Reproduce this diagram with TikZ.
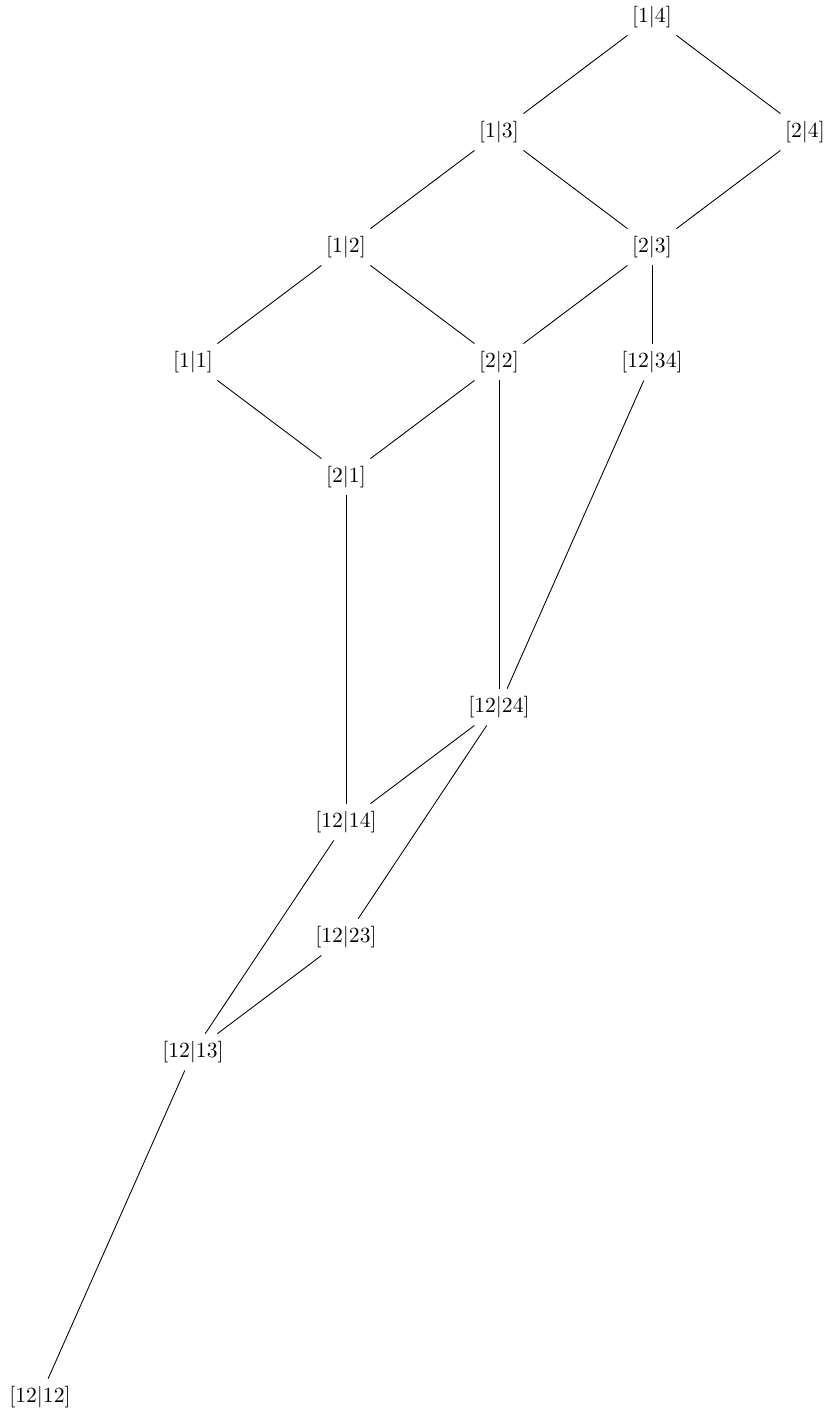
\documentclass[tikz,border=0pt]{standalone}
\begin{document}
\begin{tikzpicture}[x=70.83pt,y=-53.24pt, lbl/.style={inner sep=3.33pt}, edge/.style={draw,line width=0.4pt}]
\useasboundingbox (-18.5pt,7.87pt) rectangle (365.8pt,-645.8pt);
\node[lbl] (a14) at (4,0) {[1$|$4]};
\node[lbl] (a13) at (3,1) {[1$|$3]};
\node[lbl] (a24) at (5,1) {[2$|$4]};
\node[lbl] (a12) at (2,2) {[1$|$2]};
\node[lbl] (a23) at (4,2) {[2$|$3]};
\node[lbl] (a11) at (1,3) {[1$|$1]};
\node[lbl] (a22) at (3,3) {[2$|$2]};
\node[lbl] (b1234) at (4,3) {[12$|$34]};
\node[lbl] (a21) at (2,4) {[2$|$1]};
\node[lbl] (b1224) at (3,6) {[12$|$24]};
\node[lbl] (b1214) at (2,7) {[12$|$14]};
\node[lbl] (b1223) at (2,8) {[12$|$23]};
\node[lbl] (b1213) at (1,9) {[12$|$13]};
\node[lbl] (b1212) at (0,12) {[12$|$12]};
\path[edge] (a14) -- (a13);
\path[edge] (a14) -- (a24);
\path[edge] (a13) -- (a12);
\path[edge] (a13) -- (a23);
\path[edge] (a24) -- (a23);
\path[edge] (a12) -- (a11);
\path[edge] (a12) -- (a22);
\path[edge] (a23) -- (a22);
\path[edge] (a23) -- (b1234);
\path[edge] (a11) -- (a21);
\path[edge] (a22) -- (a21);
\path[edge] (a22) -- (b1224);
\path[edge] (b1234) -- (b1224);
\path[edge] (a21) -- (b1214);
\path[edge] (b1224) -- (b1214);
\path[edge] (b1224) -- (b1223);
\path[edge] (b1214) -- (b1213);
\path[edge] (b1223) -- (b1213);
\path[edge] (b1213) -- (b1212);
\end{tikzpicture}
\end{document}
